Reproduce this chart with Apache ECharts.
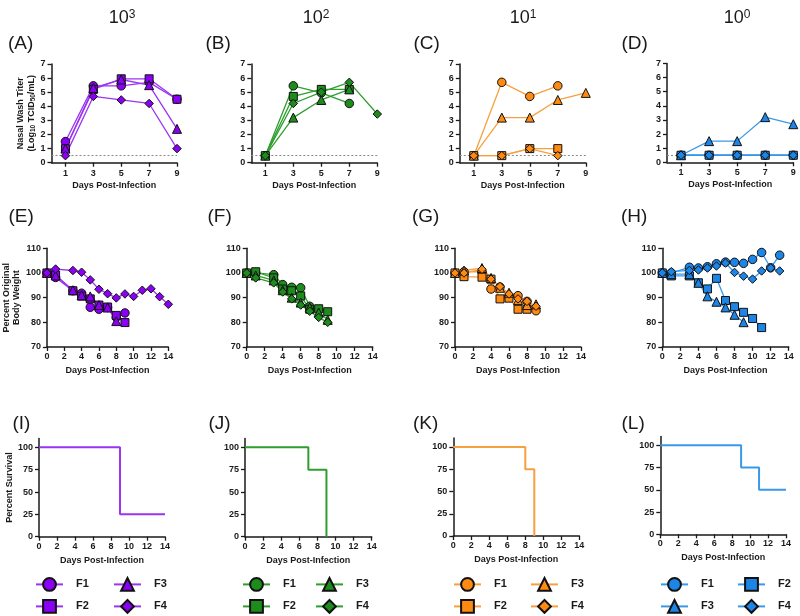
<!DOCTYPE html>
<html><head><meta charset="utf-8">
<script src="https://cdn.jsdelivr.net/npm/echarts@6/dist/echarts.min.js"></script>
<style>html,body{margin:0;padding:0;background:#fff}#c{width:800px;height:616px}</style>
</head><body><div id="c"></div><script>
// ================= DATA =================
const doseTitles = ['3', '2', '1', '0'];           // superscripts of 10^x
const panelLetters = ['A','B','C','D','E','F','G','H','I','J','K','L'];
const animals = ['F1','F2','F3','F4'];

// Nasal wash titer (log10 TCID50/mL), sampled on odd days
const titerDays = [1, 3, 5, 7, 9];
const titerTicks = [1, 3, 5, 7, 9];
const lod = 0.5;
const titerA_F1 = [1.5, 5.45, 5.45, 5.7, 4.5];
const titerA_F2 = [1.0, 5.2, 5.95, 5.95, 4.5];
const titerA_F3 = [1.0, 5.3, 5.9, 5.5, 2.4];
const titerA_F4 = [0.5, 4.7, 4.45, 4.2, 1.0];
const titerB_F1 = [0.5, 5.45, 4.95, 4.2];
const titerB_F2 = [0.5, 4.7, 5.2, 5.2];
const titerB_F3 = [0.5, 3.2, 4.45, 5.2];
const titerB_F4 = [0.5, 4.2, 5.0, 5.7, 3.45];
const titerC_F1 = [0.5, 5.7, 4.7, 5.45];
const titerC_F2 = [0.5, 0.5, 1.0, 1.0];
const titerC_F3 = [0.5, 3.2, 3.2, 4.45, 4.95];
const titerC_F4 = [0.5, 0.5, 1.0, 0.5];
const titerD_F1 = [0.5, 0.5, 0.5, 0.5, 0.5];
const titerD_F2 = [0.5, 0.5, 0.5, 0.5, 0.5];
const titerD_F3 = [0.5, 1.5, 1.5, 3.2, 2.7];
const titerD_F4 = [0.5, 0.5, 0.5, 0.5, 0.5];

// Percent original body weight
const weightDays = [0, 1, 3, 4, 5, 6, 7, 8, 9, 10, 11, 12, 13, 14];
const weightE_F1 = [100, 98.2, 92.8, 91.8, 86.1, 85.3, 86.0, 82.0, 83.8];
const weightE_F2 = [100, 99.2, 92.8, 90.6, 89.5, 87.0, 86.2, 82.8, 79.9];
const weightE_F3 = [100, 99.0, 93.0, 91.0, 90.5, 87.0, 86.0, 80.5];
const weightE_F4 = [100, 101.6, 101.0, 100.3, 97.2, 93.4, 91.6, 89.9, 91.5, 90.5, 93.0, 93.6, 90.4, 87.3];
const weightF_F1 = [100, 100, 99.3, 95.3, 94.2, 94.0, 86.5];
const weightF_F2 = [100, 100.5, 98.0, 93.5, 92.8, 90.7, 85.3, 85.5, 84.3];
const weightF_F3 = [100, 99.0, 97.0, 93.0, 90.0, 88.0, 86.0, 84.0, 81.0];
const weightF_F4 = [100, 98.0, 96.0, 92.3, 89.5, 87.0, 84.5, 82.0, 80.0];
const weightG_F1 = [100, 100.5, 100.5, 93.5, 94.3, 90.5, 90.8, 88.5, 84.7];
const weightG_F2 = [100, 98.5, 98.3, 97.5, 89.5, 89.8, 85.3, 85.3];
const weightG_F3 = [100, 101.0, 102.0, 98.0, 94.0, 92.0, 89.0, 87.0, 87.3];
const weightG_F4 = [100, 100.0, 101.5, 97.5, 94.5, 91.5, 89.5, 88.5, 86.5];
const weightH_F1 = [100, 100, 102.3, 102.0, 102.5, 103.7, 104.4, 104.3, 103.9, 105.5, 108.3, 102.1, 107.2];
const weightH_F2 = [100, 98.8, 98.8, 96.0, 93.5, 97.8, 88.8, 86.3, 84.0, 81.5, 77.8];
const weightH_F3 = [100, 99.5, 99.5, 96.0, 90.5, 88.3, 86.0, 83.0, 80.0];
const weightH_F4 = [100, 100.5, 101.0, 101.2, 102.0, 102.8, 104.0, 100.2, 98.7, 97.5, 100.8, 102.0, 100.8];

// Percent survival (Kaplan-Meier steps)
const survI_days = [0, 9, 14];      const survI_pct = [100, 25, 25];
const survJ_days = [0, 7, 9];       const survJ_pct = [100, 75, 0];
const survK_days = [0, 8, 9];       const survK_pct = [100, 75, 0];
const survL_days = [0, 9, 11, 14];  const survL_pct = [100, 75, 50, 50];
const survivalTicks = [0, 25, 50, 75, 100];

// ================= STYLE / LAYOUT =================
const FONT = '"Liberation Sans", Arial, Helvetica, sans-serif';
const INK = '#1a1a1a';
const palette = [
  {mark: '#8a00f5', line: '#9b35f2'},
  {mark: '#1d8c1d', line: '#2e9e2e'},
  {mark: '#ff8a12', line: '#f7a040'},
  {mark: '#1c85e6', line: '#3a98ea'}
];
const symbols = {F1: 'circle', F2: 'rect', F3: 'triangle', F4: 'diamond'};
const symSize = {F1: 8.5, F2: 8, F3: 9, F4: 8.5};

// [left, top, width, height]
const gridPos = [
  [51.5, 64, 125.5, 98.7], [251.3, 64, 126, 98.7], [459.8, 64, 126, 98.7], [667, 63.5, 126.3, 98.8],
  [42.3, 248.3, 126, 98.7], [246.7, 248.3, 126, 98.7], [455, 248.3, 126, 98.7], [662.3, 248.3, 126.4, 98.5],
  [39, 438.4, 126, 98.3], [245, 438.4, 126.7, 98.3], [453.3, 438.1, 126, 97.9], [660.3, 436.4, 125.7, 97.9]
];
const letterPos = [
  [3, 29], [200.5, 29], [408.5, 29], [616.5, 29],
  [3.5, 202.5], [202.5, 202.5], [407, 202.5], [616, 202.5],
  [7.5, 409], [203.5, 409], [408, 409], [616.5, 409]
];
const doseTitleX = [117, 311, 518, 732];

const titerData = {
  A: [titerA_F1, titerA_F2, titerA_F3, titerA_F4],
  B: [titerB_F1, titerB_F2, titerB_F3, titerB_F4],
  C: [titerC_F1, titerC_F2, titerC_F3, titerC_F4],
  D: [titerD_F1, titerD_F2, titerD_F3, titerD_F4]
};
const weightData = {
  E: [weightE_F1, weightE_F2, weightE_F3, weightE_F4],
  F: [weightF_F1, weightF_F2, weightF_F3, weightF_F4],
  G: [weightG_F1, weightG_F2, weightG_F3, weightG_F4],
  H: [weightH_F1, weightH_F2, weightH_F3, weightH_F4]
};
const survData = [
  [survI_days, survI_pct], [survJ_days, survJ_pct], [survK_days, survK_pct], [survL_days, survL_pct]
];

// ================= BUILD =================
const grids = gridPos.map(p => ({left: p[0], top: p[1], width: p[2], height: p[3], containLabel: false}));

function axisBase() {
  return {
    type: 'value',
    axisLine: {show: true, onZero: false, lineStyle: {color: INK, width: 1.5}},
    axisTick: {show: true, inside: false, length: 4, lineStyle: {color: INK, width: 1.3}},
    axisLabel: {color: INK, fontFamily: FONT, fontWeight: 'bold', fontSize: 9},
    splitLine: {show: false},
    nameTextStyle: {color: INK, fontFamily: FONT, fontWeight: 'bold', fontSize: 9}
  };
}

const xAxes = [], yAxes = [];
for (let g = 0; g < 12; g++) {
  const row = Math.floor(g / 4);
  const x = axisBase(), y = axisBase();
  x.gridIndex = g; y.gridIndex = g;
  x.name = 'Days Post-Infection'; x.nameLocation = 'middle';
  if (row === 0) {
    x.min = 0; x.max = 9;
    x.axisLabel.customValues = titerTicks; x.axisTick.customValues = titerTicks;
    x.axisLabel.margin = 6; x.nameGap = 18;
    y.min = 0; y.max = 7; y.interval = 1; y.axisLabel.margin = 6;
    if (g === 0) {
      y.name = '{t|Nasal Wash Titer}\n{t|(Log}{s|10}{t| TCID}{s|50}{t|/mL)}';
      y.nameLocation = 'middle'; y.nameRotate = 90; y.nameGap = 14;
      y.nameTextStyle.rich = {
        t: {fontFamily: FONT, fontWeight: 'bold', fontSize: 9, color: INK, lineHeight: 11},
        s: {fontFamily: FONT, fontWeight: 'bold', fontSize: 6.5, color: INK, lineHeight: 7, verticalAlign: 'bottom'}
      };
    }
  } else if (row === 1) {
    x.min = 0; x.max = 14; x.interval = 2; x.axisLabel.margin = 5; x.nameGap = 19;
    y.min = 70; y.max = 110; y.interval = 10; y.axisLabel.margin = 6;
    if (g === 4) {
      y.name = 'Percent Original\nBody Weight'; y.nameLocation = 'middle'; y.nameRotate = 90; y.nameGap = 22;
      y.nameTextStyle.lineHeight = 10.5;
    }
  } else {
    x.min = 0; x.max = 14; x.interval = 2; x.axisLabel.margin = 5; x.nameGap = 19;
    y.min = 0; y.max = 110;
    y.axisLabel.customValues = survivalTicks; y.axisTick.customValues = survivalTicks; y.axisLabel.margin = 6;
    if (g === 8) {
      y.name = 'Percent Survival'; y.nameLocation = 'middle'; y.nameRotate = 90; y.nameGap = 25;
    }
  }
  xAxes.push(x); yAxes.push(y);
}

const series = [];
function lineSeries(name, gi, xs, ys, key, pal) {
  return {
    type: 'line', name: name, xAxisIndex: gi, yAxisIndex: gi,
    data: ys.map((v, i) => [xs[i], v]),
    symbol: symbols[key], symbolSize: symSize[key], showSymbol: true,
    lineStyle: {color: pal.line, width: 1.3},
    itemStyle: {color: pal.mark, borderColor: '#111', borderWidth: 1},
    emphasis: {disabled: true}, silent: true, z: 2
  };
}
// titer panels
['A','B','C','D'].forEach((L, p) => {
  series.push({
    type: 'line', name: 'lod ' + L, xAxisIndex: p, yAxisIndex: p, data: [], silent: true, z: 1,
    markLine: {silent: true, z: 1, symbol: 'none', label: {show: false}, animation: false,
      lineStyle: {type: [2, 2], color: '#8a8a8a', width: 1}, data: [{yAxis: lod}]}
  });
  titerData[L].forEach((vals, k) => series.push(lineSeries(L + ' ' + animals[k], p, titerDays, vals, animals[k], palette[p])));
});
// weight panels
['E','F','G','H'].forEach((L, p) => {
  weightData[L].forEach((vals, k) => series.push(lineSeries(L + ' ' + animals[k], 4 + p, weightDays, vals, animals[k], palette[p])));
});
// survival panels
survData.forEach((s, p) => {
  series.push({
    type: 'line', name: 'surv ' + panelLetters[8 + p], xAxisIndex: 8 + p, yAxisIndex: 8 + p,
    data: s[0].map((d, i) => [d, s[1][i]]), step: 'end', showSymbol: false, symbol: 'none',
    lineStyle: {color: palette[p].line, width: 2}, silent: true, emphasis: {disabled: true}
  });
});

// titles
const titles = [];
doseTitles.forEach((e, i) => titles.push({
  text: '{b|10}{s|' + e + '}', left: doseTitleX[i], top: 4, textAlign: 'center',
  textStyle: {fontWeight: 'normal', rich: {
    b: {fontFamily: FONT, fontSize: 18, fontWeight: 'normal', color: INK, lineHeight: 18},
    s: {fontFamily: FONT, fontSize: 12, fontWeight: 'normal', color: INK, lineHeight: 12, verticalAlign: 'top'}
  }}
}));
panelLetters.forEach((L, i) => titles.push({
  text: '(' + L + ')', left: letterPos[i][0], top: letterPos[i][1],
  textStyle: {fontFamily: FONT, fontSize: 19, fontWeight: 'normal', color: INK}
}));

// legends (one per entry), referencing body-weight series
const legendLayout = [
  {panel: 'E', rows: [['F1','F3'], ['F2','F4']], x: [35, 113]},
  {panel: 'F', rows: [['F1','F3'], ['F2','F4']], x: [242, 315]},
  {panel: 'G', rows: [['F1','F3'], ['F2','F4']], x: [453, 530]},
  {panel: 'H', rows: [['F1','F2'], ['F3','F4']], x: [660, 737]}
];
const legendRowY = [585, 607];
const legends = [];
legendLayout.forEach(lg => {
  lg.rows.forEach((r, ri) => r.forEach((key, ci) => {
    legends.push({
      data: [lg.panel + ' ' + key], left: lg.x[ci], top: legendRowY[ri] - 8,
      itemWidth: 27, itemHeight: 16, selectedMode: false, padding: 0,
      lineStyle: {width: 2},
      formatter: n => n.split(' ')[1],
      textStyle: {fontFamily: FONT, fontWeight: 'bold', fontSize: 11, color: INK, padding: [0, 0, 0, 8]}
    });
  }));
});

const chart = echarts.init(document.getElementById('c'), null, {renderer: 'canvas'});
chart.setOption({
  animation: false,
  backgroundColor: '#ffffff',
  title: titles,
  legend: legends,
  grid: grids,
  xAxis: xAxes,
  yAxis: yAxes,
  series: series
});
</script></body></html>
